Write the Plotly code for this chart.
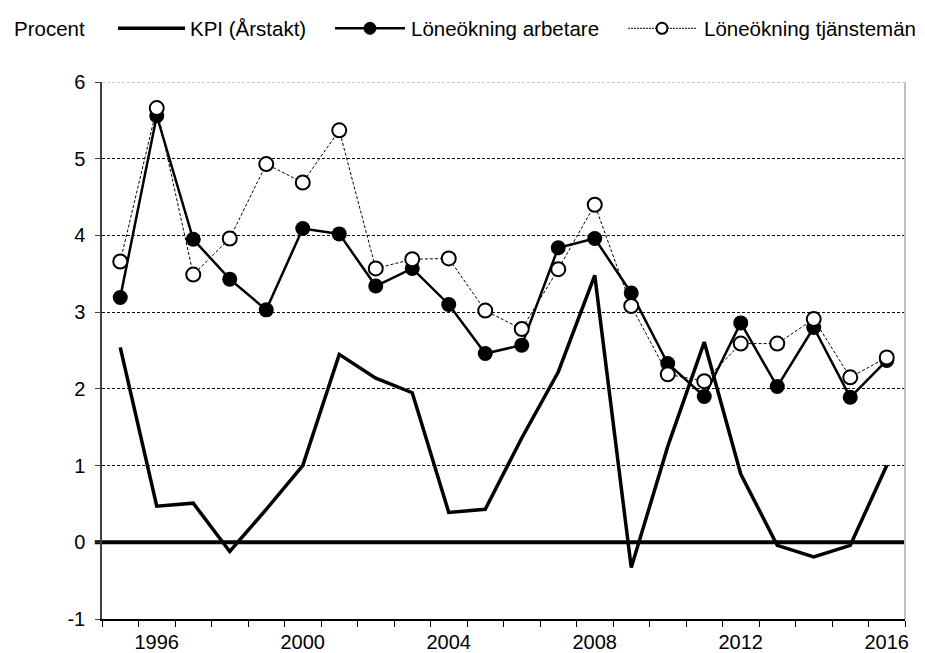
import plotly.graph_objects as go

# Data
ar = list(range(1995, 2017))
kpi = [2.54, 0.47, 0.51, -0.12, 0.43, 1.00, 2.45, 2.14, 1.95, 0.39, 0.43,
       1.36, 2.22, 3.48, -0.33, 1.25, 2.61, 0.89, -0.04, -0.19, -0.04, 1.00]
arbetare = [3.19, 5.56, 3.95, 3.43, 3.03, 4.09, 4.02, 3.34, 3.57, 3.10, 2.46,
            2.57, 3.84, 3.96, 3.25, 2.33, 1.90, 2.86, 2.03, 2.80, 1.89, 2.37]
tjanstemän = [3.66, 5.66, 3.49, 3.96, 4.93, 4.69, 5.37, 3.57, 3.69, 3.70, 3.02,
              2.78, 3.56, 4.40, 3.08, 2.19, 2.10, 2.59, 2.59, 2.91, 2.15, 2.41]
x_etiketter = [1996, 2000, 2004, 2008, 2012, 2016]
y_varden = [-1, 0, 1, 2, 3, 4, 5, 6]
y_etiketter = ["-1", "0", "1", "2", "3", "4", "5", "6"]
namn = ["KPI (Årstakt)", "Löneökning arbetare", "Löneökning tjänstemän"]

FONT = "Liberation Sans, Arial, sans-serif"

fig = go.Figure()

fig.add_trace(go.Scatter(x=ar, y=kpi, mode="lines", name=namn[0],
                         line=dict(color="black", width=3.5)))
fig.add_trace(go.Scatter(x=ar, y=arbetare, mode="lines+markers", name=namn[1],
                         line=dict(color="black", width=2.5),
                         marker=dict(symbol="circle", size=15, color="black")))
fig.add_trace(go.Scatter(x=ar, y=tjanstemän, mode="lines+markers", name=namn[2],
                         line=dict(color="black", width=1, dash="3px,2px"),
                         marker=dict(symbol="circle", size=14, color="white",
                                     line=dict(color="black", width=2))))

# nollinje, topplinje och höger ram
fig.add_shape(type="line", xref="paper", yref="y", x0=-0.009, x1=1, y0=0, y1=0,
              line=dict(color="black", width=4), layer="below")
fig.add_shape(type="line", xref="paper", yref="y", x0=0, x1=1, y0=6, y1=6,
              line=dict(color="white", width=2), layer="below")
fig.add_shape(type="line", xref="paper", yref="y", x0=0, x1=1, y0=6, y1=6,
              line=dict(color="#999999", width=1, dash="3px,2px"), layer="below")
fig.add_shape(type="line", xref="paper", yref="paper", x0=1, x1=1, y0=0, y1=1,
              line=dict(color="#c0c0c0", width=2))

# egen legend överst
ly = 1.100
lf = dict(size=20.5)
fig.add_annotation(text="Procent", xref="paper", yref="paper", x=-0.1121, y=ly,
                   xanchor="left", yanchor="middle", showarrow=False, font=lf)
fig.add_shape(type="line", xref="paper", yref="paper", x0=0.0199, x1=0.1034, y0=ly, y1=ly,
              line=dict(color="black", width=3.5))
fig.add_annotation(text=namn[0], xref="paper", yref="paper", x=0.1070, y=ly,
                   xanchor="left", yanchor="middle", showarrow=False, font=lf)
fig.add_shape(type="line", xref="paper", yref="paper", x0=0.2902, x1=0.3773, y0=ly, y1=ly,
              line=dict(color="black", width=2.5))
fig.add_shape(type="circle", xref="paper", yref="paper", xsizemode="pixel", ysizemode="pixel",
              xanchor=0.3337, yanchor=ly, x0=-6, x1=6, y0=-6, y1=6,
              fillcolor="black", line=dict(color="black", width=1))
fig.add_annotation(text=namn[1], xref="paper", yref="paper", x=0.3820, y=ly,
                   xanchor="left", yanchor="middle", showarrow=False, font=lf)
fig.add_shape(type="line", xref="paper", yref="paper", x0=0.655, x1=0.741, y0=ly, y1=ly,
              line=dict(color="black", width=1, dash="2px,1px"))
fig.add_shape(type="circle", xref="paper", yref="paper", xsizemode="pixel", ysizemode="pixel",
              xanchor=0.6974, yanchor=ly, x0=-5.5, x1=5.5, y0=-5.5, y1=5.5,
              fillcolor="white", line=dict(color="black", width=2))
fig.add_annotation(text=namn[2], xref="paper", yref="paper", x=0.7470, y=ly,
                   xanchor="left", yanchor="middle", showarrow=False, font=lf)

# sidan har 8 px marginal i body, därför 917x645
fig.update_layout(
    width=917, height=645,
    margin=dict(l=94, r=20, t=74, b=34),
    paper_bgcolor="white", plot_bgcolor="white",
    font=dict(family=FONT, size=20, color="black"),
    showlegend=False,
    xaxis=dict(range=[1994.5, 2016.5], tickmode="array", tickvals=x_etiketter,
               ticks="", showgrid=False, zeroline=False,
               showline=True, linecolor="black", linewidth=1.5,
               ticklabelstandoff=4, automargin=False,
               minor=dict(tickmode="linear", tick0=1994.5, dtick=1, ticks="outside",
                          ticklen=6, tickcolor="black", tickwidth=1, showgrid=False)),
    yaxis=dict(range=[-1, 6], tickmode="array", tickvals=y_varden, ticktext=y_etiketter,
               ticks="outside", ticklen=5, tickcolor="#404040",
               showgrid=True, gridcolor="black", gridwidth=1, griddash="3px,2px",
               zeroline=False, showline=True, linecolor="#404040", linewidth=1.5,
               ticklabelstandoff=6, automargin=False),
)

fig.write_html("out.html")
